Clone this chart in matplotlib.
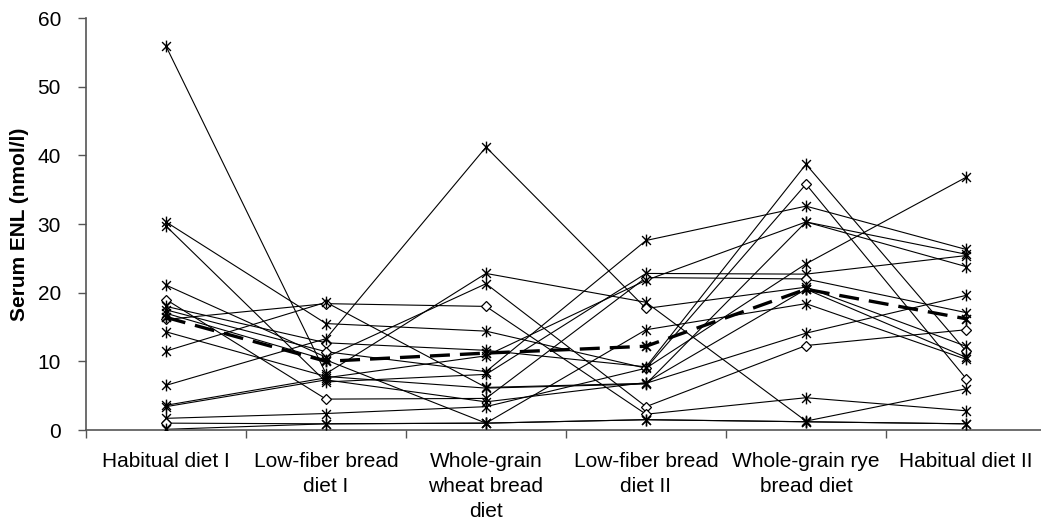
import matplotlib
matplotlib.use("Agg")
import matplotlib.pyplot as plt
from matplotlib.path import Path
from matplotlib.ticker import FixedLocator, NullFormatter

# ---------------- data ----------------
categories = ["Habitual diet I", "Low-fiber bread\ndiet I", "Whole-grain\nwheat bread\ndiet",
              "Low-fiber bread\ndiet II", "Whole-grain rye\nbread diet", "Habitual diet II"]

subject_01 = [55.9, 8.2, 22.8, 18.6, 1.3, 6.0]
subject_02 = [30.3, 15.5, 14.4, 9.0, 35.8, 7.5]
subject_03 = [29.7, 7.0, 8.1, 22.8, 22.7, 25.4]
subject_04 = [21.1, 10.6, 21.3, 3.4, 12.3, 14.6]
subject_05 = [19.0, 4.5, 4.6, 22.2, 22.0, 17.1]
subject_06 = [18.0, 12.7, 11.6, 9.2, 38.7, 11.5]
subject_07 = [17.5, 11.4, 8.5, 27.6, 32.6, 26.3]
subject_08 = [17.0, 10.2, 1.0, 14.6, 18.4, 10.3]
subject_09 = [16.1, 18.4, 18.0, 2.3, 4.7, 2.8]
subject_10 = [14.3, 7.8, 6.1, 6.7, 30.3, 23.8]
subject_11 = [11.5, 18.6, 6.2, 6.8, 14.1, 19.6]
subject_12 = [6.5, 13.3, 41.2, 17.7, 20.8, 12.2]
subject_13 = [3.6, 7.6, 10.8, 21.8, 30.3, 25.6]
subject_14 = [3.4, 7.3, 4.1, 6.9, 20.5, 10.6]
subject_15 = [1.7, 2.4, 3.4, 9.0, 24.2, 36.8]
subject_16 = [1.0, 0.9, 1.0, 1.5, 1.2, 0.9]
subject_17 = [0.1, 0.9, 1.0, 1.5, 1.2, 0.9]

mean_values = [16.4, 10.0, 11.2, 12.2, 20.5, 16.2]

subjects = [subject_01, subject_02, subject_03, subject_04, subject_05, subject_06,
            subject_07, subject_08, subject_09, subject_10, subject_11, subject_12,
            subject_13, subject_14, subject_15, subject_16, subject_17]

# points drawn with an open diamond instead of an asterisk: (subject index, category index)
diamond_points = {(4, 0), (8, 0), (15, 0),
                  (8, 1), (5, 1), (6, 1), (4, 1),
                  (8, 2),
                  (4, 3), (11, 3), (1, 3), (3, 3), (8, 3),
                  (1, 4), (4, 4), (3, 4),
                  (3, 5), (5, 5), (1, 5)}

y_ticks = [0, 10, 20, 30, 40, 50, 60]

# ---------------- style ----------------
plt.rcParams["font.family"] = ["Liberation Sans", "DejaVu Sans"]

asterisk = Path([(0, -1), (0, 1), (-0.75, -0.75), (0.75, 0.75), (-0.75, 0.75), (0.75, -0.75)],
                [Path.MOVETO, Path.LINETO, Path.MOVETO, Path.LINETO, Path.MOVETO, Path.LINETO])

fig = plt.figure(figsize=(10.41, 5.24), dpi=100)
ax = fig.add_axes([86 / 1041, 94 / 524, 960 / 1041, 412 / 524])

x = list(range(len(categories)))

for si, vals in enumerate(subjects):
    ax.plot(x, vals, color="black", lw=0.8, zorder=2)
    sx = [xi for xi in x if (si, xi) not in diamond_points]
    sy = [vals[xi] for xi in sx]
    dx = [xi for xi in x if (si, xi) in diamond_points]
    dy = [vals[xi] for xi in dx]
    ax.plot(sx, sy, linestyle="none", marker=asterisk, markersize=8.5, markeredgewidth=1.0,
            color="black", zorder=3)
    if dx:
        ax.plot(dx, dy, linestyle="none", marker="D", markersize=5.5, markeredgewidth=0.9,
                markerfacecolor="white", markeredgecolor="black", zorder=3)

ax.plot(x, mean_values, color="black", lw=2.4, dashes=(6, 3), marker=asterisk, markersize=8.5,
        markeredgewidth=1.3, zorder=4)

ax.set_xlim(-0.5, len(categories) - 0.5)
ax.set_ylim(0, 60)
ax.set_yticks(y_ticks)
ax.set_yticklabels([str(v) for v in y_ticks], fontsize=15)
ax.set_xticks(x)
ax.set_xticklabels(categories, fontsize=15, linespacing=1.4)
ax.xaxis.set_minor_locator(FixedLocator([i - 0.5 for i in range(len(categories) + 1)]))
ax.xaxis.set_minor_formatter(NullFormatter())
ax.tick_params(axis="x", which="major", length=0, pad=16)
ax.tick_params(axis="x", which="minor", length=6, width=1, direction="out", color="#555555")
ax.tick_params(axis="y", length=6, width=1, direction="out", color="#555555", pad=12)

for side in ("top", "right"):
    ax.spines[side].set_visible(False)
for side in ("left", "bottom"):
    ax.spines[side].set_color("#555555")
    ax.spines[side].set_linewidth(1.2)

ax.set_ylabel("Serum ENL (nmol/l)", fontsize=15, fontweight="bold", labelpad=6)

fig.savefig("out.png", dpi=100)
